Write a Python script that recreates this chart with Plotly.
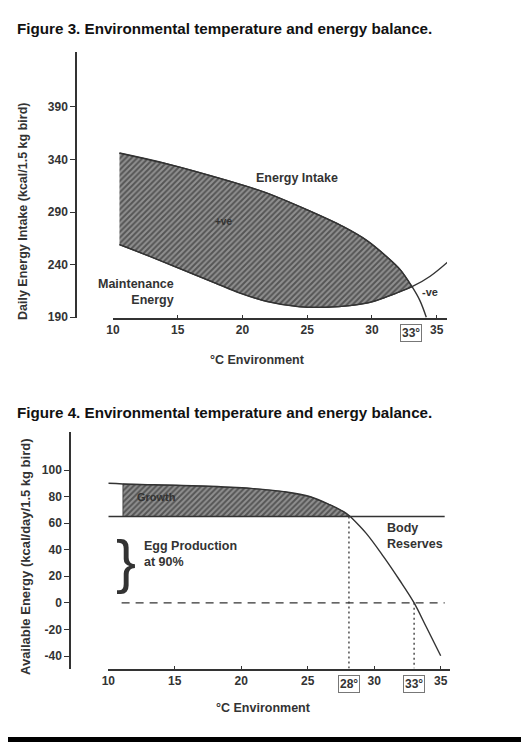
import plotly.graph_objects as go

# ---- Figure 3 data ----
fig3_intake_temp = [10.5, 14.1, 18.8, 21.9, 25.0, 27.8, 29.6, 31.1, 32.2, 33.1, 33.7, 34.2]
fig3_intake = [346, 336, 320, 308, 292, 276, 263, 248, 235, 219, 206, 190]
fig3_maint_temp = [10.5, 12.8, 15.4, 18.0, 19.8, 21.9, 24.4, 26.5, 28.3, 30.1, 31.9, 33.1, 34.5, 35.9]
fig3_maint = [259, 248, 235, 222, 213, 205, 200, 199.5, 201, 205, 213, 219, 229, 243]
fig3_cross = 33.1
fig3_ticks = [10, 15, 20, 25, 30, 35]
fig3_yticks = [190, 240, 290, 340, 390]

# ---- Figure 4 data ----
fig4_growth_temp = [10.0, 11.1, 16.9, 20.7, 23.2, 25.2, 26.7, 27.7, 28.2]
fig4_growth = [90, 89.5, 88, 86.2, 83.7, 79.9, 73.7, 68.6, 65]
fig4_body_temp = [28.2, 29.4, 30.7, 31.9, 33.0, 33.9, 35.0]
fig4_body = [65, 52.3, 34.8, 17.2, 0, -17.8, -39.8]
fig4_egg_level = 65
fig4_egg_span = [10.0, 35.3]
fig4_zero_span = [11.0, 35.3]
fig4_shade_start = 11.1
fig4_marks = [28.1, 33.0]
fig4_ticks = [10, 15, 20, 25, 30, 35]
fig4_yticks = [-40, -20, 0, 20, 40, 60, 80, 100]
fig4_ytext = ["-40", "-20", "0", "20", "40", "60", "80", "100"]

W, H = 529, 742
OFF = 8  # default body margin of the html page
INK = "#333333"
FONT = "Liberation Sans"


def px(x):
    return (x - OFF) / W


def py(y):
    return 1 - (y - OFF) / H


hatch = dict(shape="/", size=4, solidity=0.5, fgcolor="#1a1a1a", bgcolor="#909090")

fig = go.Figure()

# Figure 3: shaded band between intake and maintenance
shade_x = [t for t in fig3_intake_temp if t <= fig3_cross]
shade_y = fig3_intake[:len(shade_x)]
back = [(t, v) for t, v in zip(fig3_maint_temp, fig3_maint) if t <= fig3_cross][::-1]
poly_x = [shade_x[0]] + shade_x + [t for t, _ in back] + [back[-1][0]]
poly_y = [shade_y[0]] + shade_y + [v for _, v in back] + [back[-1][1]]
fig.add_trace(go.Scatter(x=poly_x, y=poly_y, fill="toself", fillpattern=hatch,
                         line=dict(color=INK, width=1.2, shape="spline", smoothing=0.6),
                         mode="lines", xaxis="x", yaxis="y", hoverinfo="skip"))
fig.add_trace(go.Scatter(x=fig3_intake_temp, y=fig3_intake, mode="lines",
                         line=dict(color=INK, width=1.4, shape="spline"), xaxis="x", yaxis="y"))
fig.add_trace(go.Scatter(x=fig3_maint_temp, y=fig3_maint, mode="lines",
                         line=dict(color=INK, width=1.4, shape="spline"), xaxis="x", yaxis="y"))

# Figure 4: growth band
g_x = [t for t in fig4_growth_temp if t >= fig4_shade_start]
g_y = fig4_growth[len(fig4_growth_temp) - len(g_x):]
fig.add_trace(go.Scatter(x=[g_x[0]] + g_x + [g_x[-1], g_x[0]],
                         y=[fig4_egg_level] + g_y + [fig4_egg_level, fig4_egg_level],
                         fill="toself", fillpattern=hatch, mode="lines",
                         line=dict(color=INK, width=0.8), xaxis="x2", yaxis="y2", hoverinfo="skip"))
fig.add_trace(go.Scatter(x=fig4_growth_temp, y=fig4_growth, mode="lines",
                         line=dict(color=INK, width=1.4, shape="spline"), xaxis="x2", yaxis="y2"))
fig.add_trace(go.Scatter(x=fig4_egg_span, y=[fig4_egg_level] * 2, mode="lines",
                         line=dict(color=INK, width=1.4), xaxis="x2", yaxis="y2"))
fig.add_trace(go.Scatter(x=fig4_body_temp, y=fig4_body, mode="lines",
                         line=dict(color=INK, width=1.4, shape="spline"), xaxis="x2", yaxis="y2"))
fig.add_trace(go.Scatter(x=fig4_zero_span, y=[0, 0], mode="lines",
                         line=dict(color=INK, width=1.3, dash="8px,6px"), xaxis="x2", yaxis="y2"))
fig.add_trace(go.Scatter(x=[fig4_marks[0]] * 2, y=[fig4_egg_level, -49.4], mode="lines",
                         line=dict(color=INK, width=1.3, dash="2px,3px"), xaxis="x2", yaxis="y2"))
fig.add_trace(go.Scatter(x=[fig4_marks[1]] * 2, y=[0, -49.4], mode="lines",
                         line=dict(color=INK, width=1.3, dash="2px,3px"), xaxis="x2", yaxis="y2"))

tickfont = dict(family=FONT, size=12, color=INK, weight="bold")
xcommon = dict(showgrid=False, zeroline=False, showline=True, linecolor=INK, linewidth=1.5,
               ticks="inside", ticklen=3, tickcolor=INK, tickfont=tickfont, tickvals=fig3_ticks,
               automargin=False)
ycommon = dict(showgrid=False, zeroline=False, showline=True, linecolor=INK, linewidth=1.5,
               ticks="outside", ticklen=5, tickcolor=INK, tickfont=tickfont, anchor="free",
               automargin=False)

fig.update_layout(
    width=W, height=H, margin=dict(l=0, r=0, t=0, b=0, autoexpand=False),
    paper_bgcolor="white", plot_bgcolor="white", showlegend=False,
    xaxis=dict(xcommon, domain=[px(113), px(447)], range=[10, 35.8], anchor="y"),
    yaxis=dict(ycommon, domain=[py(318), py(52)], range=[189.3, 442], position=px(76),
               tickvals=fig3_yticks),
    xaxis2=dict(xcommon, domain=[px(108.3), px(450)], range=[10, 35.7], anchor="y2",
                tickvals=fig4_ticks),
    yaxis2=dict(ycommon, domain=[py(668.5), py(432)], range=[-49.4, 128.6], position=px(70),
                tickvals=fig4_yticks, ticktext=fig4_ytext),
)

ann = []


def text(s, x, y, xref, yref, size=12.5, xanchor="center", align="center", **kw):
    ann.append(dict(text=s, x=x, y=y, xref=xref, yref=yref, showarrow=False,
                    xanchor=xanchor, yanchor="middle", align=align,
                    font=dict(family=FONT, size=size, color=INK, weight="bold"), **kw))


# titles
for t, y in [("Figure 3. Environmental temperature and energy balance.", 28),
             ("Figure 4. Environmental temperature and energy balance.", 412)]:
    ann.append(dict(text="<b>" + t + "</b>", x=px(15), y=py(y), xref="paper", yref="paper",
                    xanchor="left", yanchor="middle", showarrow=False,
                    font=dict(family=FONT, size=15.2, color="#111111")))

text("Daily Energy Intake (kcal/1.5 kg bird)", px(23), py(212), "paper", "paper", size=12.5,
     textangle=-90)
text("Available Energy (kcal/day/1.5 kg bird)", px(25), py(557), "paper", "paper", size=13,
     textangle=-90)
text("°C Environment", px(257), py(360), "paper", "paper")
text("°C Environment", px(263), py(708), "paper", "paper")

text("Energy Intake", 24.2, 322, "x", "y")
text("+ve", 18.5, 281, "x", "y", size=10)
text("Maintenance<br>Energy", 14.9, 214, "x", "y", xanchor="right", align="right")
text("-ve", 34.5, 214, "x", "y", size=11)
text("33°", 33, py(333), "x", "paper", size=12, bordercolor="#777", borderwidth=1, borderpad=1)

text("Growth", 13.6, 79.5, "x2", "y2", size=11)
text("Egg Production<br>at 90%", 12.5, 37, "x2", "y2", xanchor="left", align="left")
text("Body<br>Reserves", 30.8, 50.5, "x2", "y2", xanchor="left", align="left")
ann.append(dict(text="}", x=11.3, y=31, xref="x2", yref="y2", showarrow=False,
                yanchor="middle", font=dict(family=FONT, size=60, color=INK)))
text("28°", fig4_marks[0], py(684), "x2", "paper", size=12, bordercolor="#777", borderwidth=1,
     borderpad=1)
text("33°", fig4_marks[1], py(684), "x2", "paper", size=12, bordercolor="#777", borderwidth=1,
     borderpad=1)

fig.update_layout(annotations=ann)
fig.add_shape(type="rect", xref="paper", yref="paper", x0=0, x1=1, y0=0, y1=py(737),
              fillcolor="black", line=dict(width=0))

fig.write_html("out.html")
